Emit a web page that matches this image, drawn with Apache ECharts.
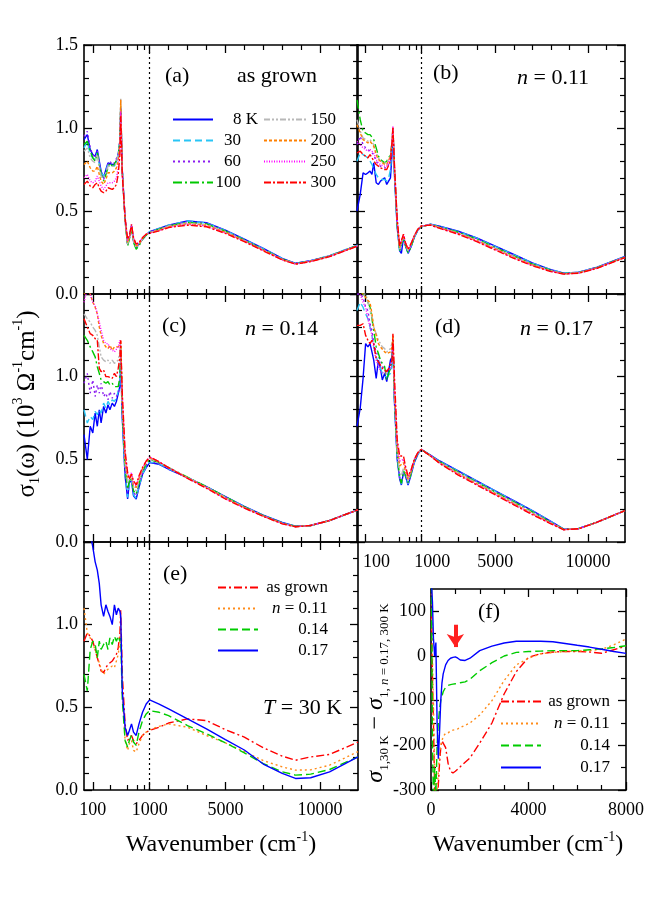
<!DOCTYPE html>
<html>
<head>
<meta charset="utf-8">
<script src="https://cdn.jsdelivr.net/npm/echarts@6/dist/echarts.min.js"></script>
<style>
html, body { margin: 0; padding: 0; background: #fff; }
#chart { width: 651px; height: 920px; }
</style>
</head>
<body>
<div id="chart"></div>
<script>
// wavenumber grid (cm-1) shared by panels (a)-(e)
const wavenumber = [70, 80, 90, 100, 110, 120, 130, 140, 155, 170, 185, 200, 220, 240, 260, 280, 300, 310,
  330, 370, 410, 440, 480, 520, 580, 650, 750, 870, 1000, 1500, 2000, 3000, 4000, 5000, 6000, 7000, 8000,
  8700, 9500, 10500, 12000];

const tempNames = ['8 K', '30', '60', '100', '150', '200', '250', '300'];

// sigma_1 (10^3 Ohm^-1 cm^-1), one row per temperature
const sigmaAsGrown = [
  [0.93,0.96,0.87,0.84,0.83,0.87,0.80,0.74,0.70,0.75,0.79,0.80,0.78,0.78,0.80,0.84,0.92,1.12,0.75,0.45,0.30,0.34,0.41,0.32,0.28,0.30,0.33,0.355,0.375,0.395,0.415,0.44,0.43,0.385,0.33,0.275,0.215,0.185,0.2,0.23,0.295],
  [0.88,0.92,0.84,0.82,0.81,0.85,0.78,0.73,0.71,0.74,0.78,0.79,0.78,0.77,0.80,0.84,0.92,1.12,0.74,0.45,0.30,0.34,0.41,0.32,0.28,0.30,0.33,0.355,0.375,0.395,0.415,0.44,0.428,0.383,0.328,0.273,0.213,0.185,0.2,0.232,0.295],
  [0.95,0.98,0.88,0.84,0.82,0.86,0.79,0.72,0.69,0.73,0.78,0.80,0.78,0.79,0.80,0.84,0.93,1.13,0.75,0.45,0.30,0.34,0.41,0.32,0.28,0.30,0.33,0.355,0.373,0.393,0.412,0.435,0.425,0.38,0.326,0.27,0.212,0.184,0.2,0.23,0.294],
  [0.90,0.92,0.86,0.82,0.80,0.85,0.78,0.72,0.68,0.72,0.76,0.79,0.77,0.78,0.79,0.83,0.92,1.13,0.74,0.44,0.29,0.33,0.40,0.31,0.27,0.29,0.33,0.355,0.37,0.39,0.41,0.432,0.422,0.378,0.324,0.268,0.21,0.183,0.198,0.229,0.293],
  [0.86,0.88,0.82,0.80,0.79,0.84,0.77,0.71,0.70,0.73,0.77,0.78,0.77,0.77,0.79,0.84,0.93,1.18,0.74,0.45,0.30,0.34,0.41,0.32,0.28,0.30,0.33,0.36,0.37,0.388,0.408,0.428,0.418,0.375,0.322,0.266,0.209,0.182,0.198,0.228,0.292],
  [0.78,0.80,0.76,0.74,0.74,0.77,0.72,0.68,0.66,0.69,0.73,0.74,0.73,0.74,0.76,0.80,0.90,1.17,0.73,0.45,0.31,0.34,0.41,0.33,0.29,0.30,0.335,0.36,0.368,0.385,0.405,0.424,0.414,0.372,0.32,0.264,0.208,0.181,0.197,0.227,0.291],
  [0.70,0.72,0.68,0.67,0.68,0.71,0.68,0.65,0.63,0.65,0.67,0.68,0.67,0.68,0.70,0.76,0.86,1.10,0.72,0.46,0.32,0.35,0.42,0.34,0.30,0.31,0.34,0.36,0.367,0.383,0.402,0.42,0.41,0.368,0.318,0.262,0.206,0.18,0.196,0.226,0.29],
  [0.66,0.68,0.65,0.64,0.66,0.67,0.64,0.62,0.61,0.62,0.64,0.64,0.63,0.64,0.66,0.72,0.84,1.07,0.72,0.46,0.33,0.35,0.42,0.34,0.30,0.31,0.34,0.36,0.365,0.38,0.4,0.415,0.405,0.365,0.315,0.26,0.205,0.18,0.195,0.225,0.29]
];
const sigmaN011 = [
  [0.50,0.60,0.73,0.72,0.73,0.74,0.72,0.79,0.67,0.66,0.68,0.67,0.70,0.66,0.67,0.70,0.85,0.99,0.72,0.40,0.26,0.245,0.34,0.29,0.245,0.28,0.34,0.385,0.405,0.42,0.408,0.378,0.338,0.288,0.238,0.188,0.147,0.126,0.132,0.162,0.226],
  [0.80,0.85,0.84,0.83,0.82,0.80,0.78,0.77,0.72,0.70,0.69,0.68,0.69,0.68,0.70,0.75,0.88,1.0,0.74,0.41,0.26,0.25,0.345,0.295,0.25,0.28,0.34,0.385,0.405,0.42,0.406,0.376,0.336,0.286,0.236,0.186,0.146,0.126,0.131,0.161,0.225],
  [0.90,0.95,0.90,0.88,0.87,0.86,0.85,0.84,0.80,0.78,0.77,0.77,0.76,0.76,0.78,0.80,0.90,1.0,0.75,0.42,0.27,0.26,0.35,0.30,0.255,0.285,0.345,0.387,0.406,0.419,0.404,0.373,0.332,0.282,0.232,0.182,0.143,0.124,0.13,0.16,0.224],
  [1.17,1.05,0.98,0.97,0.96,0.96,0.97,0.93,0.88,0.83,0.81,0.80,0.79,0.80,0.80,0.84,0.92,1.0,0.75,0.42,0.26,0.25,0.345,0.295,0.25,0.28,0.345,0.387,0.406,0.419,0.403,0.372,0.33,0.28,0.23,0.18,0.142,0.123,0.129,0.159,0.223],
  [1.05,0.98,0.94,0.93,0.92,0.93,0.92,0.90,0.85,0.82,0.80,0.79,0.79,0.79,0.80,0.83,0.92,1.0,0.76,0.43,0.27,0.27,0.35,0.30,0.26,0.29,0.348,0.388,0.407,0.418,0.401,0.368,0.325,0.276,0.226,0.177,0.14,0.122,0.128,0.158,0.222],
  [1.02,0.97,0.93,0.92,0.91,0.92,0.91,0.89,0.84,0.81,0.80,0.79,0.78,0.78,0.79,0.83,0.92,1.01,0.77,0.44,0.28,0.28,0.355,0.305,0.265,0.295,0.35,0.389,0.408,0.417,0.399,0.365,0.321,0.272,0.222,0.175,0.138,0.121,0.127,0.157,0.221],
  [0.92,0.90,0.88,0.87,0.86,0.87,0.86,0.85,0.81,0.79,0.78,0.77,0.77,0.77,0.78,0.82,0.93,1.01,0.78,0.45,0.29,0.29,0.36,0.31,0.27,0.30,0.35,0.39,0.409,0.416,0.397,0.362,0.318,0.268,0.218,0.172,0.136,0.12,0.126,0.156,0.22],
  [0.85,0.86,0.84,0.83,0.82,0.84,0.82,0.81,0.78,0.77,0.76,0.75,0.75,0.75,0.76,0.80,0.92,1.0,0.78,0.45,0.29,0.29,0.36,0.31,0.27,0.30,0.35,0.39,0.41,0.415,0.395,0.36,0.315,0.265,0.215,0.17,0.135,0.12,0.125,0.155,0.22]
];
const sigmaN014 = [
  [0.65,0.50,0.70,0.66,0.78,0.70,0.80,0.72,0.82,0.78,0.83,0.80,0.84,0.82,0.85,0.86,0.94,1.10,0.75,0.40,0.26,0.36,0.37,0.28,0.26,0.33,0.41,0.45,0.48,0.47,0.44,0.39,0.335,0.275,0.215,0.163,0.118,0.096,0.1,0.13,0.195],
  [0.80,0.72,0.76,0.74,0.79,0.77,0.80,0.78,0.84,0.81,0.85,0.83,0.86,0.85,0.87,0.88,0.95,1.12,0.76,0.41,0.27,0.36,0.37,0.285,0.265,0.335,0.41,0.455,0.485,0.472,0.442,0.39,0.334,0.273,0.213,0.161,0.116,0.095,0.1,0.13,0.195],
  [0.96,1.02,0.90,0.98,0.88,0.95,0.90,0.96,0.88,0.90,0.86,0.91,0.87,0.90,0.88,0.90,0.98,1.15,0.78,0.43,0.30,0.37,0.38,0.30,0.28,0.345,0.42,0.465,0.49,0.475,0.445,0.39,0.333,0.272,0.212,0.16,0.115,0.094,0.1,0.13,0.195],
  [1.25,1.22,1.18,1.15,1.12,1.06,1.02,0.98,0.97,0.96,0.97,0.95,0.96,0.94,0.95,0.94,1.00,1.18,0.80,0.45,0.32,0.37,0.39,0.31,0.29,0.355,0.43,0.47,0.5,0.48,0.45,0.392,0.335,0.273,0.212,0.16,0.115,0.094,0.1,0.13,0.195],
  [1.38,1.35,1.33,1.30,1.28,1.25,1.18,1.12,1.10,1.09,1.10,1.08,1.10,1.08,1.09,1.10,1.15,1.20,0.83,0.48,0.36,0.38,0.40,0.33,0.31,0.37,0.44,0.48,0.505,0.482,0.45,0.39,0.332,0.27,0.21,0.158,0.113,0.093,0.1,0.13,0.195],
  [1.50,1.53,1.50,1.45,1.42,1.38,1.30,1.25,1.20,1.18,1.17,1.19,1.16,1.18,1.17,1.18,1.20,1.22,0.86,0.50,0.39,0.38,0.41,0.34,0.33,0.385,0.445,0.485,0.51,0.484,0.45,0.388,0.33,0.266,0.208,0.157,0.112,0.093,0.1,0.13,0.195],
  [1.45,1.53,1.50,1.45,1.43,1.38,1.33,1.28,1.22,1.20,1.20,1.17,1.16,1.15,1.16,1.18,1.22,1.22,0.88,0.53,0.41,0.39,0.42,0.35,0.34,0.395,0.448,0.488,0.515,0.485,0.45,0.386,0.327,0.262,0.206,0.156,0.111,0.092,0.1,0.13,0.195],
  [1.35,1.30,1.26,1.25,1.23,1.22,1.05,1.03,1.04,1.00,1.00,0.99,0.99,1.02,1.00,1.05,1.12,1.22,0.90,0.55,0.42,0.38,0.41,0.37,0.345,0.40,0.45,0.49,0.515,0.485,0.45,0.385,0.325,0.26,0.205,0.155,0.11,0.092,0.1,0.13,0.195]
];
const sigmaN017 = [
  [0.70,0.81,0.99,1.20,1.18,1.20,1.15,1.10,0.99,1.10,1.05,0.98,1.02,0.97,0.98,1.10,1.12,1.22,0.85,0.50,0.38,0.345,0.42,0.40,0.345,0.40,0.48,0.53,0.56,0.525,0.49,0.43,0.37,0.31,0.25,0.19,0.125,0.078,0.082,0.12,0.19],
  [1.40,1.45,1.42,1.38,1.35,1.30,1.25,1.18,1.12,1.08,1.05,1.02,1.00,1.00,0.99,1.02,1.08,1.20,0.86,0.51,0.385,0.35,0.42,0.40,0.35,0.405,0.485,0.532,0.56,0.524,0.488,0.428,0.368,0.308,0.248,0.188,0.123,0.077,0.082,0.12,0.19],
  [1.50,1.50,1.48,1.42,1.40,1.32,1.28,1.20,1.15,1.12,1.10,1.06,1.05,1.03,1.02,1.05,1.10,1.20,0.87,0.52,0.39,0.355,0.425,0.405,0.355,0.41,0.488,0.535,0.56,0.523,0.486,0.425,0.365,0.305,0.245,0.185,0.12,0.076,0.081,0.12,0.19],
  [1.52,1.52,1.50,1.50,1.45,1.42,1.35,1.28,1.18,1.14,1.10,1.08,1.06,0.98,1.02,1.05,1.10,1.20,0.88,0.53,0.39,0.355,0.43,0.41,0.36,0.41,0.49,0.538,0.56,0.522,0.484,0.422,0.362,0.302,0.242,0.182,0.118,0.076,0.081,0.12,0.19],
  [1.52,1.52,1.50,1.50,1.45,1.40,1.36,1.30,1.26,1.22,1.20,1.18,1.17,1.15,1.16,1.17,1.18,1.22,0.90,0.55,0.42,0.40,0.45,0.42,0.37,0.42,0.49,0.54,0.56,0.521,0.481,0.418,0.357,0.297,0.237,0.177,0.116,0.075,0.081,0.12,0.19],
  [1.52,1.52,1.50,1.48,1.46,1.45,1.38,1.30,1.25,1.20,1.18,1.17,1.15,1.14,1.14,1.15,1.18,1.25,0.92,0.58,0.46,0.45,0.48,0.43,0.38,0.42,0.495,0.54,0.56,0.521,0.479,0.413,0.352,0.292,0.232,0.172,0.114,0.075,0.08,0.12,0.19],
  [1.52,1.50,1.45,1.42,1.35,1.30,1.25,1.18,1.10,1.06,1.03,1.02,1.02,1.03,1.04,1.05,1.10,1.20,0.95,0.60,0.49,0.48,0.50,0.45,0.39,0.43,0.50,0.54,0.56,0.52,0.477,0.409,0.348,0.288,0.228,0.168,0.112,0.074,0.08,0.12,0.19],
  [1.31,1.31,1.32,1.25,1.22,1.20,1.22,1.20,1.11,1.09,1.07,1.05,1.04,1.03,1.05,1.06,1.10,1.26,1.00,0.62,0.52,0.51,0.52,0.46,0.40,0.43,0.50,0.54,0.56,0.52,0.475,0.405,0.345,0.285,0.225,0.165,0.11,0.074,0.08,0.12,0.19]
];

const sampleNames = ['as grown', 'n = 0.11', '0.14', '0.17'];

// panel (e): T = 30 K, one row per sample
const sigma30K = [
  [0.90,0.95,0.93,0.90,0.85,0.80,0.76,0.72,0.71,0.74,0.76,0.77,0.78,0.80,0.82,0.86,0.95,1.09,0.70,0.40,0.30,0.31,0.33,0.30,0.28,0.30,0.33,0.35,0.36,0.38,0.405,0.43,0.42,0.365,0.32,0.255,0.205,0.18,0.2,0.215,0.29],
  [1.10,0.95,0.92,0.88,0.85,0.80,0.77,0.73,0.70,0.72,0.73,0.72,0.75,0.74,0.78,0.82,0.90,1.00,0.60,0.30,0.24,0.28,0.30,0.24,0.23,0.28,0.33,0.35,0.365,0.385,0.40,0.38,0.33,0.285,0.232,0.178,0.14,0.12,0.122,0.15,0.232],
  [0.70,0.60,0.85,0.90,0.88,0.80,0.90,0.85,0.88,0.90,0.85,0.92,0.88,0.93,0.90,0.93,0.90,0.92,0.55,0.30,0.26,0.30,0.33,0.29,0.27,0.35,0.42,0.46,0.48,0.47,0.45,0.39,0.34,0.285,0.225,0.16,0.11,0.09,0.096,0.124,0.2],
  [1.62,1.60,1.55,1.47,1.38,1.33,1.25,1.12,1.05,1.12,1.08,1.05,1.00,1.12,1.06,1.10,1.08,1.05,0.60,0.38,0.33,0.36,0.40,0.35,0.33,0.40,0.47,0.52,0.545,0.52,0.49,0.43,0.37,0.305,0.242,0.157,0.10,0.07,0.074,0.11,0.2]
];

// panel (f): sigma_1(30 K) - sigma_1(n = 0.17, 300 K), Ohm^-1 cm^-1
const diffWavenumber = [20, 60, 100, 150, 200, 250, 300, 350, 400, 450, 500, 600, 700, 800, 900, 1000, 1100,
  1200, 1400, 1600, 2000, 2500, 3000, 3500, 4000, 4500, 5000, 5500, 6000, 6500, 7000, 7500, 8000];
const diffAsGrown = [100,-50,-150,-300,-330,-320,-290,-240,-205,-190,-186,-205,-240,-258,-262,-258,-253,-248,-238,-228,-195,-150,-85,-35,-3,5,9,10,10,9,6,14,22];
const diffN011 = [140,0,-100,-250,-320,-300,-260,-220,-200,-190,-180,-173,-172,-168,-166,-165,-163,-160,-155,-150,-132,-100,-55,-20,-5,5,8,10,11,12,15,25,38];
const diffN014 = [160,-200,-320,-250,-310,-200,-150,-120,-100,-90,-80,-70,-66,-64,-63,-62,-61,-60,-58,-52,-33,-15,0,8,10,11,12,12,12,14,16,19,23];
const diffN017 = [160,120,40,0,30,-150,-230,-170,-100,-60,-40,-20,-10,-5,-3,-2,-5,-9,-10,-5,12,22,29,33,33,33,32,28,24,20,15,10,6];

// ticks
const xMajorTicks = [100, 1000, 5000, 10000];
const xMinorTicks = [200, 400, 600, 800, 2000, 3000, 4000, 6000, 7000, 8000, 9000, 11000];
const sigmaMajorTicks = [0, 0.5, 1, 1.5];
const sigmaMinorTicks = [0.1, 0.2, 0.3, 0.4, 0.6, 0.7, 0.8, 0.9, 1.1, 1.2, 1.3, 1.4];
const diffXMajor = [0, 4000, 8000];
const diffXMinor = [1000, 2000, 3000, 5000, 6000, 7000];
const diffYMajor = [-300, -200, -100, 0, 100];
const diffYMinor = [-250, -150, -50, 50];

const FONT = 'Liberation Serif';
const BLACK = '#000';
const tempColors = ['#0000ff', '#29c5f6', '#8b1cf0', '#00c800', '#b8b8b8', '#ff8000', '#ff00ff', '#ff0000'];
const tempDash = ['solid', [7, 4], [2, 3], [9, 3, 2, 3], [6, 2, 2, 2, 2, 2], [3, 2], [1, 1.5], [7, 2, 2, 2]];
const sampleColors = ['#ff0000', '#ff8c1a', '#00cc00', '#0000ff'];
const sampleDash = [[8, 3, 2, 3], [2, 3], [8, 4], 'solid'];

// x scale: log below 1000 cm-1 (3000 units per decade), linear above
const tx = w => w >= 1000 ? w : 1000 + 3000 * Math.log10(w / 1000);
const untx = v => v >= 1000 ? Math.round(v) : Math.round(1000 * Math.pow(10, (v - 1000) / 3000));

const grid = [], xAxis = [], yAxis = [], series = [];

function axisDef(g, pos, r, withLabels) {
  const label = withLabels && r.labels
    ? Object.assign({ show: true, customValues: r.labels, color: BLACK, fontFamily: FONT, fontSize: 18,
        margin: r.margin, formatter: r.fmt }, r.labelExtra || {})
    : { show: false };
  return {
    gridIndex: g, type: 'value', position: pos, min: r.min, max: r.max,
    axisLine: { show: true, onZero: false, lineStyle: { color: BLACK, width: 1.6 } },
    splitLine: { show: false },
    axisTick: { show: true, inside: true, length: 8, customValues: r.major, lineStyle: { color: BLACK, width: 1.3 } },
    axisLabel: label
  };
}
function minorDef(g, pos, r) {
  return {
    gridIndex: g, type: 'value', position: pos, min: r.min, max: r.max,
    axisLine: { show: false, onZero: false },
    splitLine: { show: false },
    axisTick: { show: true, inside: true, length: 5, customValues: r.minor, lineStyle: { color: BLACK, width: 1.2 } },
    axisLabel: { show: false }
  };
}
function addPanel(box, xr, yr) {
  const g = grid.length;
  grid.push({ left: box.left, top: box.top, width: box.width, height: box.height, containLabel: false, outerBoundsMode: 'none' });
  const xi = xAxis.length;
  ['bottom', 'top'].forEach(p => { xAxis.push(axisDef(g, p, xr, p === 'bottom')); xAxis.push(minorDef(g, p, xr)); });
  const yi = yAxis.length;
  ['left', 'right'].forEach(p => { yAxis.push(axisDef(g, p, yr, p === 'left')); yAxis.push(minorDef(g, p, yr)); });
  return { xi, yi };
}

const dottedLine = {
  silent: true, symbol: ['none', 'none'], label: { show: false }, animation: false,
  lineStyle: { color: BLACK, width: 1.2, type: [2, 3] }, emphasis: { disabled: true },
  data: [{ xAxis: 1000 }]
};

const xFmt = v => String(untx(v));
const panels = [
  { box: { left: 84, top: 45, width: 274, height: 249 }, rows: sigmaAsGrown, names: tempNames, yLabels: [0, 0.5, 1, 1.5], xLabels: false },
  { box: { left: 357, top: 45, width: 268, height: 249 }, rows: sigmaN011, names: tempNames, yLabels: null, xLabels: false },
  { box: { left: 84, top: 294, width: 274, height: 248 }, rows: sigmaN014, names: tempNames, yLabels: [0, 0.5, 1], xLabels: false },
  { box: { left: 357, top: 294, width: 268, height: 248 }, rows: sigmaN017, names: tempNames, yLabels: null, xLabels: true, shift: true },
  { box: { left: 84, top: 542, width: 274, height: 248 }, rows: sigma30K, names: sampleNames, yLabels: [0, 0.5, 1], xLabels: true }
];

panels.forEach(p => {
  const xr = {
    min: tx(70), max: 12000, major: xMajorTicks.map(tx), minor: xMinorTicks.map(tx),
    labels: p.xLabels ? xMajorTicks.map(tx) : null, margin: 11,
    fmt: p.shift ? (v => (untx(v) <= 1000 ? '{s|' + untx(v) + '}' : String(untx(v)))) : xFmt,
    labelExtra: p.shift ? { rich: { s: { padding: [0, 0, 0, 22], fontFamily: FONT, fontSize: 18, color: BLACK } } } : null
  };
  const yr = { min: 0, max: 1.5, major: sigmaMajorTicks, minor: sigmaMinorTicks, labels: p.yLabels, margin: 6, fmt: v => v.toFixed(1) };
  const ax = addPanel(p.box, xr, yr);
  const isTemp = p.names === tempNames;
  p.rows.forEach((row, k) => {
    const color = isTemp ? tempColors[k] : sampleColors[k];
    series.push({
      name: p.names[k], type: 'line', xAxisIndex: ax.xi, yAxisIndex: ax.yi,
      data: wavenumber.map((w, j) => [tx(w), row[j]]),
      symbol: 'none', showSymbol: false, clip: true, animation: false,
      lineStyle: { color, width: 1.4, type: isTemp ? tempDash[k] : sampleDash[k] },
      itemStyle: { color },
      emphasis: { disabled: true },
      markLine: k === 0 ? dottedLine : undefined
    });
  });
});

// panel (f)
const axF = addPanel({ left: 431, top: 589, width: 195, height: 201 },
  { min: 0, max: 8000, major: diffXMajor, minor: diffXMinor, labels: diffXMajor, margin: 11, fmt: v => String(v) },
  { min: -300, max: 150, major: diffYMajor, minor: diffYMinor, labels: diffYMajor, margin: 5, fmt: v => String(v) });
[diffAsGrown, diffN011, diffN014, diffN017].forEach((vals, k) => {
  series.push({
    name: sampleNames[k], type: 'line', xAxisIndex: axF.xi, yAxisIndex: axF.yi,
    data: diffWavenumber.map((w, j) => [w, vals[j]]),
    symbol: 'none', showSymbol: false, clip: true, animation: false,
    lineStyle: { color: sampleColors[k], width: 1.4, type: sampleDash[k] },
    itemStyle: { color: sampleColors[k] },
    emphasis: { disabled: true },
    markLine: k === 3 ? {
      silent: true, symbol: ['none', 'arrow'], symbolSize: 13, label: { show: false }, animation: false,
      lineStyle: { color: '#ff2020', width: 4, type: 'solid' }, emphasis: { disabled: true },
      data: [[{ coord: [1000, 70] }, { coord: [1000, 20] }]]
    } : undefined
  });
});

function legendOpt(names, left, top, itemWidth, gap, numWidth, fullWidth) {
  const t = { fontFamily: FONT, fontSize: 17, color: BLACK, lineHeight: 17 };
  return {
    data: names, orient: 'vertical', left, top, padding: 0, itemWidth, itemHeight: 14, itemGap: gap,
    selectedMode: false,
    itemStyle: { opacity: 0, borderWidth: 0 },
    formatter: name => {
      if (name === '8 K') return '{k|8 K}';
      if (name.startsWith('n =')) return '{pad| }{i|n}{t|' + name.slice(1) + '}';
      return fullWidth ? '{f|' + name + '}' : '{r|' + name + '}';
    },
    textStyle: Object.assign({}, t, { rich: {
      r: Object.assign({ width: numWidth, align: 'right' }, t),
      k: Object.assign({ width: 40, align: 'right' }, t),
      f: Object.assign({ width: fullWidth, align: 'right' }, t),
      t: t,
      i: Object.assign({ fontStyle: 'italic' }, t),
      pad: Object.assign({ width: (fullWidth || 0) - 56 }, t)
    } })
  };
}

const rich = (size) => ({
  s: { fontFamily: FONT, fontSize: size, fill: BLACK, lineHeight: size + 6 },
  si: { fontFamily: FONT, fontSize: size, fontStyle: 'italic', fill: BLACK, lineHeight: size + 6 },
  sb: { fontFamily: FONT, fontSize: Math.round(size * 0.55), fill: BLACK, lineHeight: Math.round(size * 0.55), verticalAlign: 'bottom' },
  sbi: { fontFamily: FONT, fontSize: Math.round(size * 0.55), fontStyle: 'italic', fill: BLACK, lineHeight: Math.round(size * 0.55), verticalAlign: 'bottom' },
  sp: { fontFamily: FONT, fontSize: Math.round(size * 0.58), fill: BLACK, lineHeight: Math.round(size * 0.58), verticalAlign: 'top' }
});
const label = (x, y, text, opts) => Object.assign({
  type: 'text', x, y, silent: true,
  style: { text, rich: rich(22), align: 'left', verticalAlign: 'middle', fill: BLACK }
}, opts || {});

const graphic = [
  label(165, 76, '{s|(a)}'),
  label(237, 76, '{s|as grown}'),
  label(433, 73, '{s|(b)}'),
  label(517, 78, '{si|n}{s| = 0.11}'),
  label(162, 326, '{s|(c)}'),
  label(245, 329, '{si|n}{s| = 0.14}'),
  label(435, 327, '{s|(d)}'),
  label(520, 329, '{si|n}{s| = 0.17}'),
  label(163, 574, '{s|(e)}'),
  label(263, 708, '{si|T}{s| = 30 K}'),
  label(478, 612, '{s|(f)}'),
  { type: 'text', x: 27, y: 404, rotation: Math.PI / 2, silent: true,
    style: { text: '{s|σ}{sb|1}{s|(ω) (10}{sp|3}{s| Ω}{sp|-1}{s|cm}{sp|-1}{s|)}', rich: rich(25), align: 'center', verticalAlign: 'middle', fill: BLACK } },
  { type: 'text', x: 376, y: 693, rotation: Math.PI / 2, silent: true,
    style: { text: '{si|σ}{sb|1,30 K}{s| − }{si|σ}{sb|1, }{sbi|n}{sb| = 0.17, 300 K}', rich: rich(24), align: 'center', verticalAlign: 'middle', fill: BLACK } },
  { type: 'text', x: 221, y: 845, silent: true,
    style: { text: '{s|Wavenumber (cm}{sp|-1}{s|)}', rich: rich(24), align: 'center', verticalAlign: 'middle', fill: BLACK } },
  { type: 'text', x: 528, y: 845, silent: true,
    style: { text: '{s|Wavenumber (cm}{sp|-1}{s|)}', rich: rich(24), align: 'center', verticalAlign: 'middle', fill: BLACK } }
];

const chart = echarts.init(document.getElementById('chart'));
chart.setOption({
  animation: false,
  backgroundColor: '#fff',
  textStyle: { fontFamily: FONT },
  grid, xAxis, yAxis, series, graphic,
  legend: [
    legendOpt(tempNames.slice(0, 4), 172, 111, 40, 4, 23, null),
    legendOpt(tempNames.slice(4), 263, 111, 42, 4, 25, null),
    legendOpt(sampleNames, 217, 579, 40, 4, 0, 65),
    legendOpt(sampleNames, 500, 693, 40, 5, 0, 64)
  ]
});
</script>
</body>
</html>
